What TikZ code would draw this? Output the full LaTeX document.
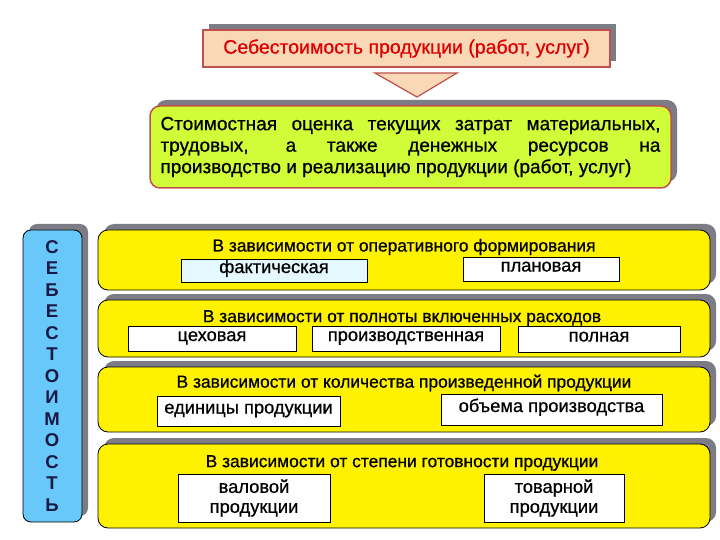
\documentclass[tikz,border=0pt]{standalone}
\usepackage{fontspec}
\setmainfont{Liberation Sans}
\newfontfamily\heavy{Liberation Sans}[FakeBold=0.7]
\usetikzlibrary{shadows}
\definecolor{peach}{RGB}{249,216,184}
\definecolor{rimred}{RGB}{192,80,77}
\definecolor{titlered}{RGB}{220,0,0}
\definecolor{lime}{RGB}{208,252,56}
\definecolor{skyblue}{RGB}{105,200,250}
\definecolor{navy}{RGB}{25,25,70}
\definecolor{shadowgray}{RGB}{124,124,134}
\definecolor{paleblue}{RGB}{228,248,255}
\tikzset{
  shade box/.style={drop shadow={shadow xshift=6pt,shadow yshift=6pt,fill=shadowgray,opacity=1}},
  group box/.style={draw=black, fill=yellow, rounded corners=10pt, line width=0.8pt,
    shade box, minimum width=612pt, inner sep=0pt},
  group title/.style={inner sep=0pt, font=\heavy\fontsize{17.4}{19}\selectfont},
  kind box/.style={draw=black, fill=white, line width=0.7pt, inner sep=0pt,
    text height=9pt, text depth=4pt, font=\heavy\fontsize{18.3}{20}\selectfont},
  letter/.style={inner sep=0pt, text=navy, font=\bfseries\fontsize{18.5}{20}\selectfont}
}
\begin{document}
\begin{tikzpicture}[x=1pt,y=-1pt]
  \useasboundingbox (0,0) rectangle (720,540);
  % heading and arrow
  \node[draw=rimred, fill=peach, line width=1.2pt, shade box, inner sep=0pt,
    minimum width=407pt, minimum height=37pt, text=titlered,
    font=\heavy\fontsize{19.5}{21}\selectfont] (cost) at (406.5,48.5)
    {Себестоимость продукции (работ, услуг)};
  \draw[draw=rimred, fill=peach, line width=1.2pt]
    (375,73) -- (457,73) -- (417,97) -- cycle;
  % definition
  \node[draw=rimred, fill=lime, line width=1.5pt, rounded corners=10pt, shade box,
    inner xsep=10.5pt, inner ysep=0pt, minimum height=82pt, text width=500pt,
    align=justify, font=\heavy\fontsize{19}{21.5}\selectfont] (def) at (410.5,147)
    {Стоимостная оценка текущих затрат материальных, трудовых, а также денежных
     ресурсов на\linebreak производство и реализацию продукции (работ, услуг)};
  % side label
  \node[draw=black, fill=skyblue, line width=0.8pt, rounded corners=8pt, shade box,
    minimum width=59pt, minimum height=292pt] (side) at (52.5,376) {};
  \foreach \ch [count=\i from 0] in {С,Е,Б,Е,С,Т,О,И,М,О,С,Т,Ь}
    \node[letter] (l\i) at (52,247+21.5*\i) {\ch};
  % groups
  \node[group box, minimum height=60pt] (g1) at (404,260) {};
  \node[group box, minimum height=57pt] (g2) at (404,328.5) {};
  \node[group box, minimum height=65pt] (g3) at (404,399.5) {};
  \node[group box, minimum height=84pt] (g4) at (404,486) {};
  \node[group title] (t1) at (404,247) {В зависимости от оперативного формирования};
  \node[group title] (t2) at (402,318) {В зависимости от полноты включенных расходов};
  \node[group title] (t3) at (404,383) {В зависимости от количества произведенной продукции};
  \node[group title] (t4) at (402,463) {В зависимости от степени готовности продукции};
  % kinds
  \node[kind box, fill=paleblue, minimum width=186pt, minimum height=23pt] (fact) at (274,270.5) {фактическая};
  \node[kind box, minimum width=156pt, minimum height=24pt] (plan) at (541,269) {плановая};
  \node[kind box, minimum width=168pt, minimum height=25pt] (shop) at (212,338.5) {цеховая};
  \node[kind box, minimum width=188pt, minimum height=25pt] (prod) at (406,338.5) {производственная};
  \node[kind box, minimum width=162pt, minimum height=26pt] (full) at (599,339) {полная};
  \node[kind box, minimum width=183pt, minimum height=30pt] (unit) at (248.5,411) {единицы продукции};
  \node[kind box, minimum width=221pt, minimum height=31pt] (vol) at (551.5,409.5) {объема производства};
  \node[kind box, text height=, text depth=, align=center, minimum width=152pt, minimum height=48pt] (gross) at (254,498) {валовой\\продукции};
  \node[kind box, text height=, text depth=, align=center, minimum width=140pt, minimum height=48pt] (market) at (554,498) {товарной\\продукции};
\end{tikzpicture}
\end{document}
